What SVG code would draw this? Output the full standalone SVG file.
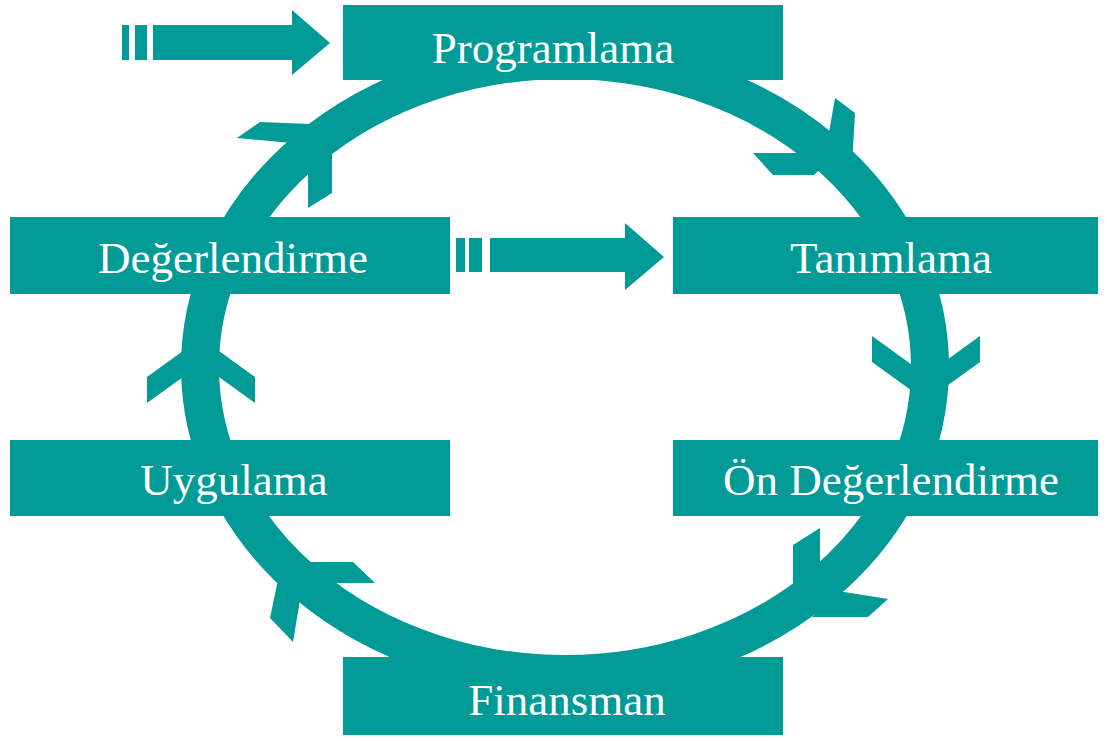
<svg xmlns="http://www.w3.org/2000/svg" width="1107" height="741" viewBox="0 0 1107 741">
<style>
.f{fill:#009a97}
.box{fill:#009a97}
.t{fill:#ffffff;font-family:"Liberation Serif","Times New Roman",serif;font-size:45px;text-anchor:middle}
</style>
<defs>
<polygon id="chev" points="-54,-51 0,-12 54,-51 54,-25 0,14 -54,-25"/>
</defs>
<rect width="1107" height="741" fill="#ffffff"/>
<g id="connectors">
<ellipse cx="565" cy="367" rx="365" ry="307" fill="none" stroke="#009a97" stroke-width="38"/>
<g class="f">
<use href="#chev" transform="translate(926,387)"/>
<use href="#chev" transform="translate(201,352) rotate(180)"/>
<polygon points="237,138 260,122 335,125 335,147"/>
<polygon points="308,208 332,193 332,128 308,132"/>
<polygon points="835,98 855,113 852,165 826,150"/>
<polygon points="753,153 805,153 830,160 814,175 773,175"/>
<polygon points="793,545 820,528 820,575 793,600"/>
<polygon points="838,591 888,599 868,617 812,617"/>
<polygon points="300,562 353,562 375,583 320,583"/>
<polygon points="280,570 270,618 293,642 302,588"/>
</g>
<g id="arrow-top" class="f">
<rect x="122" y="25" width="7" height="35"/>
<rect x="135" y="25" width="12" height="35"/>
<polygon points="153,25 292,25 292,10 330,43 292,75 292,60 153,60"/>
</g>
<g id="arrow-mid" class="f">
<rect x="456" y="238" width="9" height="34"/>
<rect x="469" y="238" width="13" height="34"/>
<polygon points="490,238 625,238 625,223 664,257 625,290 625,272 490,272"/>
</g>
</g>
<g id="programlama"><rect class="box" x="343" y="5" width="440" height="75"/><text class="t" x="553" y="63">Programlama</text></g>
<g id="degerlendirme"><rect class="box" x="10" y="217" width="440" height="77"/><text class="t" x="233" y="273">Değerlendirme</text></g>
<g id="tanimlama"><rect class="box" x="673" y="217" width="425" height="77"/><text class="t" x="891" y="273">Tanımlama</text></g>
<g id="uygulama"><rect class="box" x="10" y="440" width="440" height="76"/><text class="t" x="234" y="495">Uygulama</text></g>
<g id="on-degerlendirme"><rect class="box" x="673" y="440" width="425" height="76"/><text class="t" x="891" y="495">Ön Değerlendirme</text></g>
<g id="finansman"><rect class="box" x="343" y="657" width="440" height="78"/><text class="t" x="567" y="715">Finansman</text></g>
</svg>
